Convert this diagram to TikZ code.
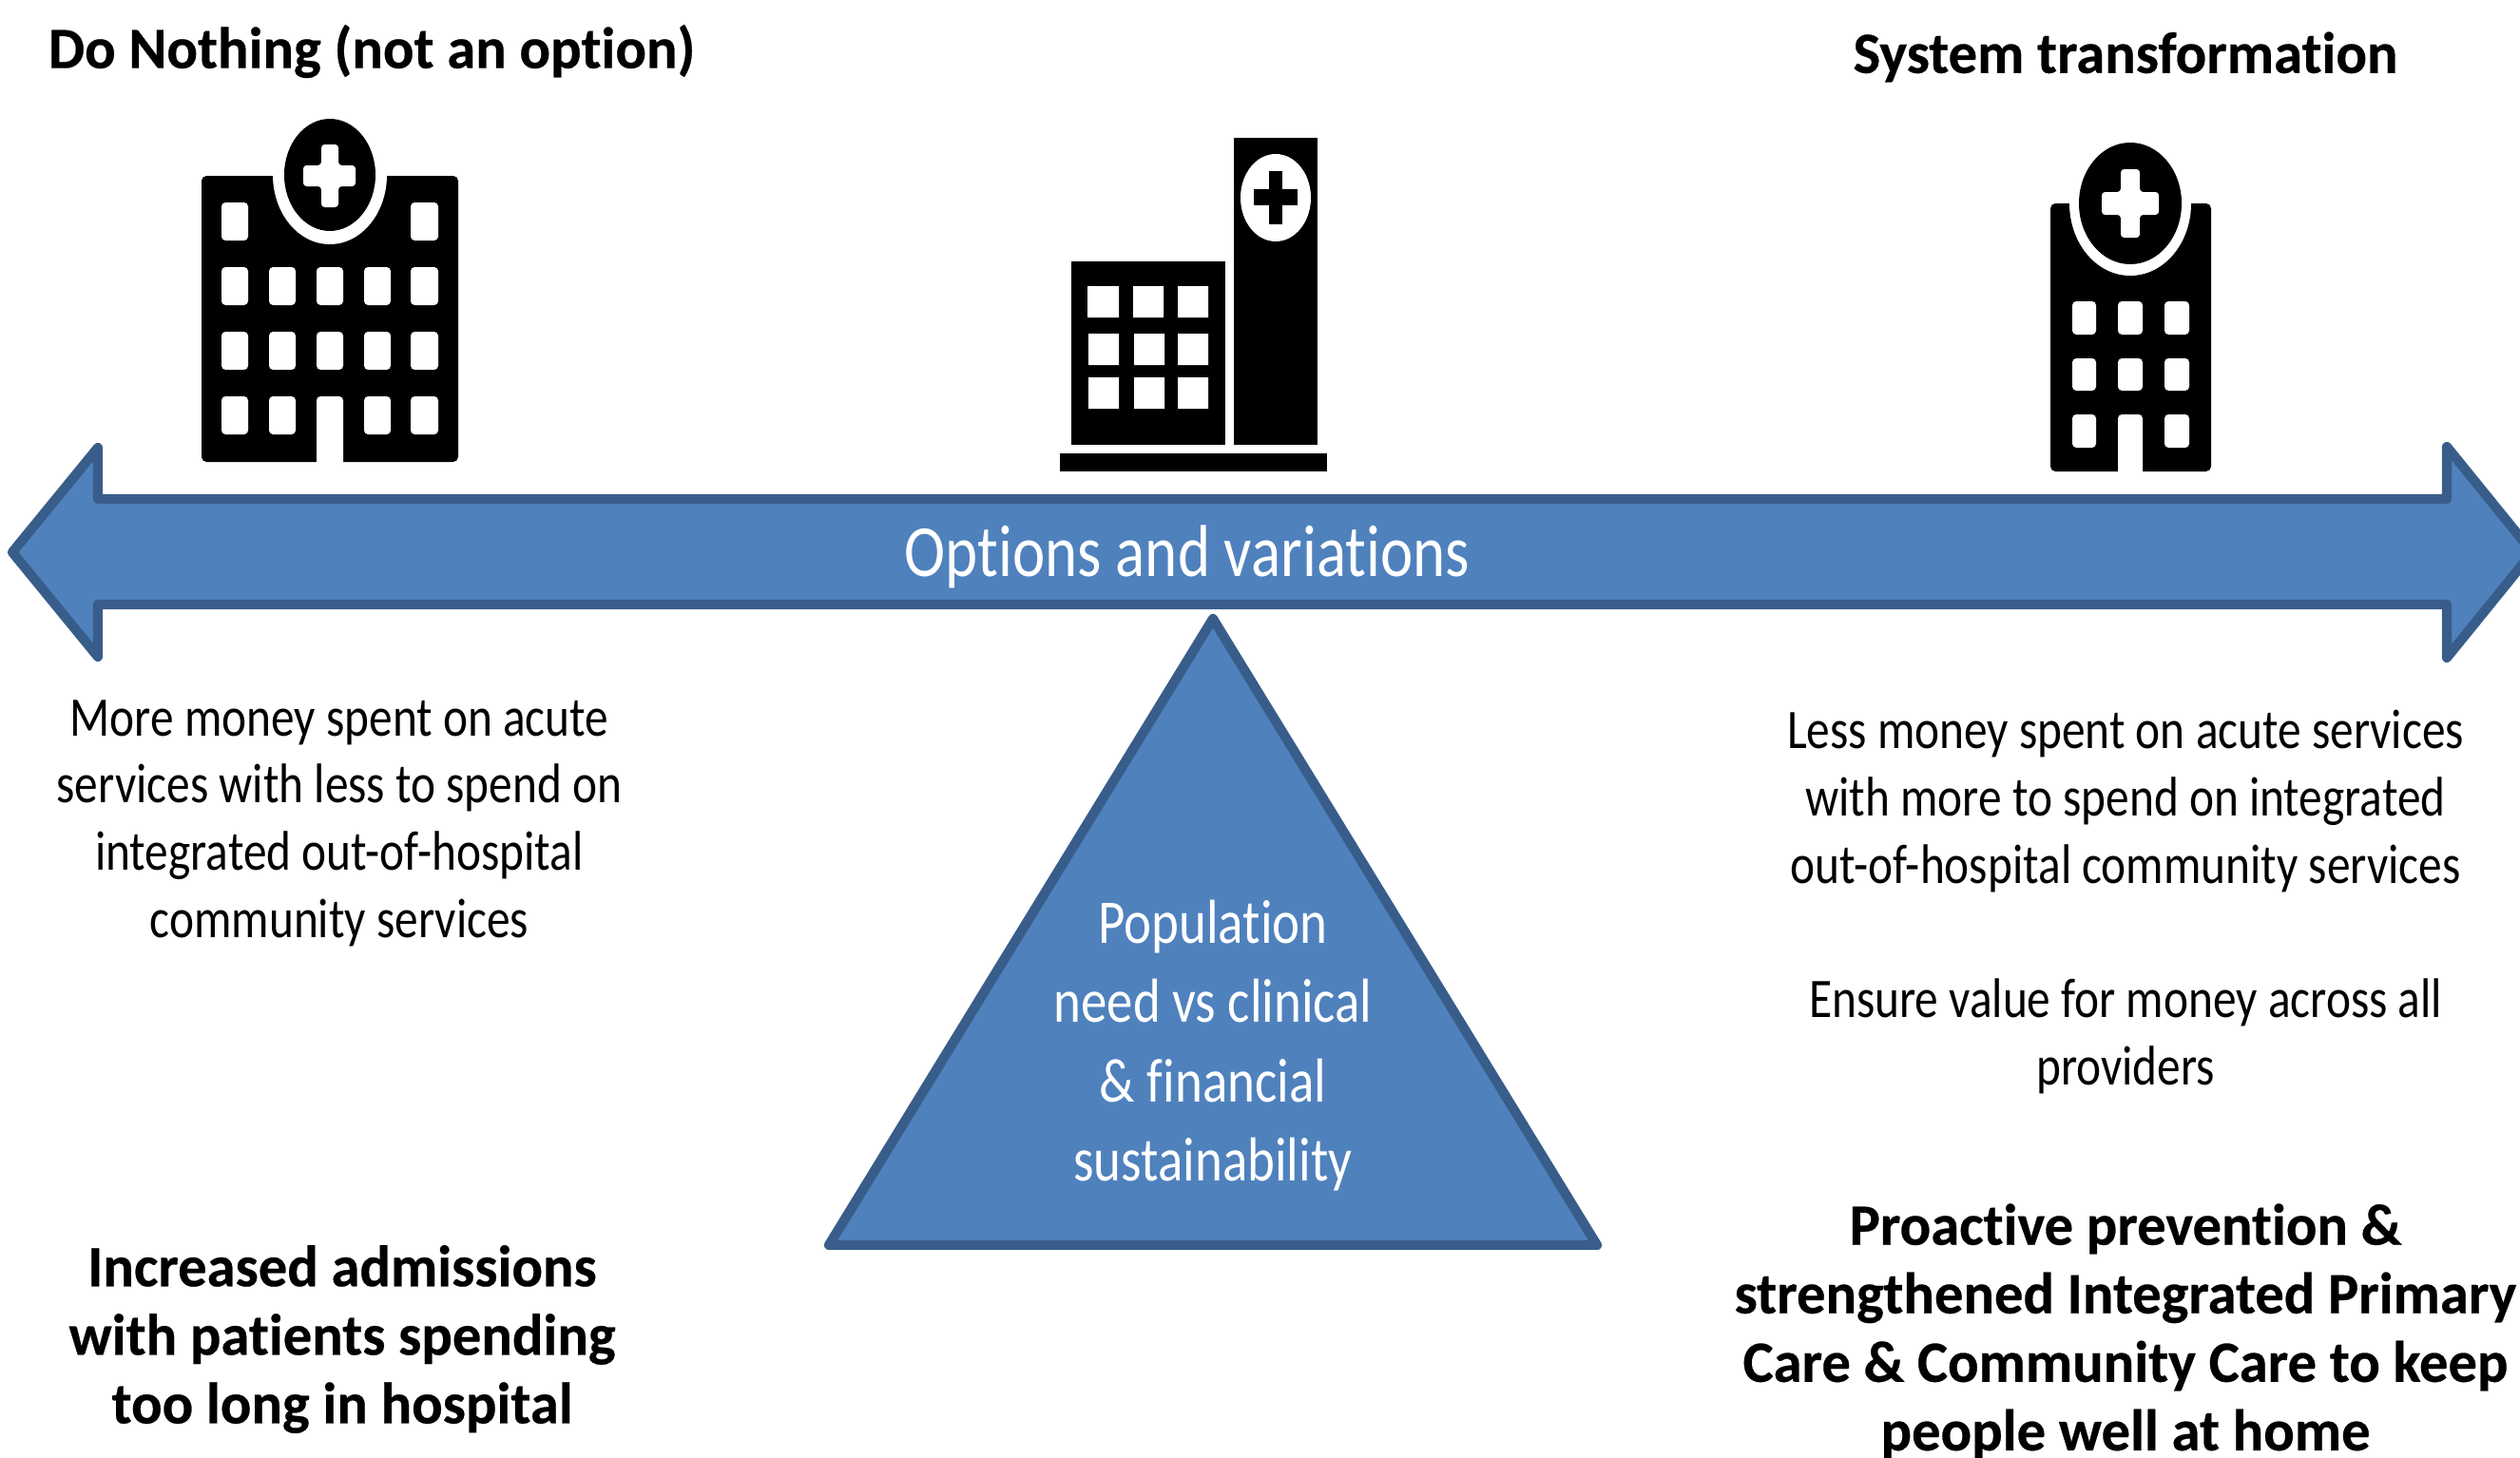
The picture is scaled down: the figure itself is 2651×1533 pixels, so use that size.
\documentclass[tikz,border=0pt]{standalone}
\usepackage{fontspec}
\setmainfont{Carlito}[Ligatures=NoCommon, FakeStretch=0.84, BoldFeatures={FakeStretch=0.985, FakeBold=0.4}]
\usetikzlibrary{calc}
\definecolor{barblue}{HTML}{4F81BD}
\definecolor{barline}{HTML}{385D8A}
\tikzset{
  shapeblue/.style={fill=barblue, draw=barline, line width=2.9pt, line join=round},
  win/.style={fill=white, rounded corners=1.2pt},
  wsquare/.style={fill=white},
  bodytext/.style={align=center, font=\fontsize{16.7}{20.1}\selectfont, inner sep=0pt},
  boldtext/.style={align=center, font=\fontsize{17.5}{20.5}\selectfont\bfseries, inner sep=0pt},
  bartext/.style={align=center, text=white, font=\fontsize{22}{24}\selectfont, inner sep=0pt}
}
\begin{document}
\begin{tikzpicture}[x=0.01cm,y=-0.01cm]
    \useasboundingbox (0,0) rectangle (2651,1533);
    \clip (0,0) rectangle (2651,1533);

    % Left hospital
    \fill[rounded corners=1.5pt] (212,185) rectangle (482,486);
    \fill[white] (347,184) ellipse [x radius=60, y radius=73];
    \fill[white] (287,150) rectangle (407,184);
    \fill (347,184) ellipse [x radius=48, y radius=59];
    \fill[white, rounded corners=1pt] (338,152) -- (356,152) -- (356,174) -- (374,174) -- (374,196) -- (356,196) -- (356,218) -- (338,218) -- (338,196) -- (319,196) -- (319,174) -- (338,174) -- cycle;
    % Windows, row by row
    \fill[win] (233,213) rectangle (261,253) (432,213) rectangle (461,253);
    \fill[win] (233,281) rectangle (261,321) (283,281) rectangle (311,321) (333,281) rectangle (361,321) (383,281) rectangle (411,321) (432,281) rectangle (461,321);
    \fill[win] (233,349) rectangle (261,389) (283,349) rectangle (311,389) (333,349) rectangle (361,389) (383,349) rectangle (411,389) (432,349) rectangle (461,389);
    \fill[win] (233,417) rectangle (261,457) (283,417) rectangle (311,457) (383,417) rectangle (411,457) (432,417) rectangle (461,457);
    \fill[white, rounded corners=1.2pt] (333,490) -- (333,417) -- (361,417) -- (361,490) -- cycle;

    % Middle hospital
    \fill (1298,145) rectangle (1386,468);
    \fill (1127,275) rectangle (1289,468);
    \fill (1115,477) rectangle (1396,496);
    \fill[white] (1342,208) ellipse [x radius=37, y radius=46];
    \fill (1335,180) rectangle (1349,236);
    \fill (1319,199) rectangle (1365,216);
    \fill[wsquare] (1144,301) rectangle (1177,334) (1192,301) rectangle (1224,334) (1239,301) rectangle (1271,334);
    \fill[wsquare] (1145,351) rectangle (1177,384) (1193,351) rectangle (1225,384) (1239,351) rectangle (1271,384);
    \fill[wsquare] (1145,397) rectangle (1177,430) (1193,397) rectangle (1225,430) (1239,397) rectangle (1271,430);

    % Right hospital
    \fill[rounded corners=1.5pt] (2157,214) rectangle (2326,496);
    \fill[white] (2241,214) ellipse [x radius=64, y radius=76];
    \fill[white] (2177,180) rectangle (2305,214);
    \fill (2241,214) ellipse [x radius=54, y radius=64];
    \fill[white, rounded corners=1pt] (2231,178) -- (2251,178) -- (2251,202) -- (2271,202) -- (2271,226) -- (2251,226) -- (2251,250) -- (2231,250) -- (2231,226) -- (2211,226) -- (2211,202) -- (2231,202) -- cycle;
    \fill[win] (2180,317) rectangle (2205,352) (2228,317) rectangle (2254,352) (2277,317) rectangle (2303,352);
    \fill[win] (2180,377) rectangle (2205,411) (2228,377) rectangle (2254,411) (2277,377) rectangle (2303,411);
    \fill[win] (2180,436) rectangle (2205,471) (2277,436) rectangle (2303,471);
    \fill[white, rounded corners=1.2pt] (2228,500) -- (2228,436) -- (2254,436) -- (2254,500) -- cycle;

    % Double arrow and triangle
    \draw[shapeblue] (13,581) -- (103,471) -- (103,525) -- (2574,525) -- (2574,470) -- (2664,581) -- (2574,692) -- (2574,636) -- (103,636) -- (103,691) -- cycle;
    \draw[shapeblue] (1276,651) -- (1680,1310) -- (872,1310) -- cycle;

    % Labels
    \node[bartext] (options) at (1249,586) {Options and variations};
    \node[bartext, font=\fontsize{18.6}{23.7}\selectfont] (need) at (1276,1100) {Population\\need vs clinical\\\& financial\\sustainability};

    \node[boldtext] (nothing) at (391,54) {Do Nothing (not an option)};
    \node[boldtext] (transform) at (2236,60) {System transformation};

    \node[bodytext] (moremoney) at (357,866) {More money spent on acute\\services with less to spend on\\integrated out-of-hospital\\community services};
    \node[boldtext] (admissions) at (360,1409) {Increased admissions\\with patients spending\\too long in hospital};

    \node[bodytext] (lessmoney) at (2236,843) {Less money spent on acute services\\with more to spend on integrated\\out-of-hospital community services};
    \node[bodytext] (value) at (2236,1090) {Ensure value for money across all\\providers};
    \node[boldtext] (proactive) at (2236,1401) {Proactive prevention \&\\strengthened Integrated Primary\\Care \& Community Care to keep\\people well at home};
\end{tikzpicture}
\end{document}
